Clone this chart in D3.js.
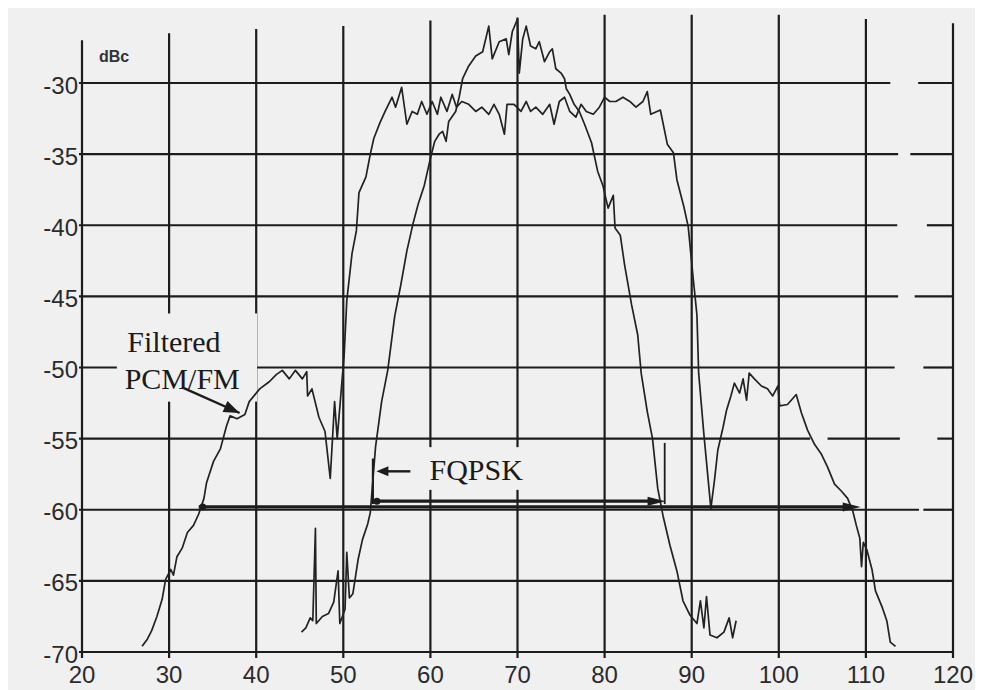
<!DOCTYPE html>
<html lang="en">
  <head>
    <meta charset="utf-8" />
    <title>FQPSK vs Filtered PCM/FM spectrum</title>
    <script src="https://d3js.org/d3.v7.min.js"></script>
    <style>
      html,
      body {
        margin: 0;
        padding: 0;
        background: #fff;
      }
      svg {
        display: block;
      }
      .tick-label {
        font-family: "Liberation Sans", Arial, sans-serif;
        font-size: 24px;
        fill: #2b2b2b;
      }
      .note {
        font-family: "Liberation Serif", "Times New Roman", serif;
        font-size: 30px;
        fill: #1a1a1a;
      }
    </style>
  </head>

  <body>
    <svg id="chart"></svg>

    <script>
      // frequency ticks and dBc ticks
      const xTicks = [20, 30, 40, 50, 60, 70, 80, 90, 100, 110, 120];
      const yTicks = [-70, -65, -60, -55, -50, -45, -40, -35, -30];

      // spectrum traces: [frequency, dBc]
      const pcmFmPoints = [
        [26.9, -69.6], [27.5, -69.1], [28.0, -68.5], [28.6, -67.5], [29.2, -66.3], [29.6, -64.9],
        [30.2, -64.2], [30.5, -64.6], [30.9, -63.3], [31.5, -62.7], [32.1, -61.6], [32.8, -61.1],
        [33.4, -60.3], [34.0, -59.2], [34.3, -58.1], [35.1, -56.6], [35.9, -55.7], [36.6, -54.1],
        [37.0, -53.4], [37.8, -53.6], [38.7, -53.3], [39.2, -52.4], [40.4, -51.5], [41.5, -51.0],
        [42.3, -50.5], [43.0, -50.2], [43.8, -50.8], [44.5, -50.2], [45.3, -50.8], [45.8, -50.3],
        [45.9, -52.0], [46.4, -51.5], [47.2, -53.5], [47.9, -54.5], [48.5, -57.8], [49.0, -52.4],
        [49.3, -55.0], [50.1, -49.1], [50.4, -45.3], [51.0, -42.0], [51.5, -40.4], [51.8, -37.7],
        [52.6, -36.6], [53.1, -35.0], [53.5, -33.9], [54.2, -32.8], [54.8, -32.0], [55.6, -31.0],
        [56.0, -31.7], [56.7, -30.3], [57.3, -32.9], [57.9, -32.0], [58.5, -32.2], [59.0, -31.3],
        [59.6, -32.2], [60.2, -31.3], [60.8, -32.2], [61.2, -31.0], [61.9, -32.0], [62.5, -30.8],
        [63.0, -31.7], [63.6, -31.3], [64.4, -31.5], [65.2, -32.0], [65.9, -31.7], [66.7, -32.2],
        [67.3, -31.5], [67.9, -32.2], [68.5, -33.6], [68.8, -31.5], [69.6, -31.5], [70.4, -32.0],
        [71.0, -31.3], [71.5, -32.0], [72.1, -31.7], [72.9, -32.2], [73.7, -31.5], [74.2, -32.9],
        [74.8, -31.3], [75.4, -31.0], [76.0, -32.0], [76.7, -32.4], [77.3, -31.5], [77.9, -32.0],
        [78.7, -32.2], [79.4, -31.7], [80.0, -31.0], [80.6, -31.3], [81.3, -31.3], [82.1, -31.0],
        [82.9, -31.3], [83.6, -31.7], [84.4, -31.3], [84.9, -30.6], [85.3, -32.2], [86.4, -31.9],
        [87.2, -34.3], [87.9, -34.9], [88.3, -36.8], [89.1, -38.7], [89.6, -40.1], [90.2, -43.9],
        [90.6, -46.3], [90.8, -50.4], [91.4, -54.7], [92.2, -59.9], [92.6, -58.0], [93.0, -55.8],
        [93.6, -54.2], [94.0, -53.0], [94.5, -52.0], [94.9, -51.1], [95.5, -51.8], [95.9, -50.8],
        [96.3, -52.3], [96.6, -50.4], [97.2, -50.8], [98.0, -51.3], [98.7, -51.5], [99.3, -52.0],
        [99.9, -51.3], [100.1, -52.7], [101.0, -52.6], [102.0, -51.9], [102.6, -53.2], [103.3, -54.4],
        [104.1, -55.4], [104.9, -56.1], [105.6, -57.0], [106.4, -58.2], [107.2, -58.7], [107.9, -59.2],
        [108.5, -60.1], [108.9, -61.1], [109.3, -62.0], [109.5, -64.0], [109.7, -62.3], [110.1, -62.8],
        [110.7, -64.2], [111.1, -65.7], [111.9, -66.9], [112.4, -67.8], [112.8, -69.3], [113.4, -69.6],
      ];

      const fqpskPoints = [
        [45.2, -68.6], [45.7, -68.3], [46.2, -67.6], [46.5, -67.8], [46.8, -61.3], [46.9, -68.0],
        [47.6, -67.5], [48.3, -67.3], [48.9, -66.5], [49.4, -64.3], [49.6, -68.0], [50.2, -67.0],
        [50.4, -63.0], [50.7, -66.2], [51.1, -65.9], [51.7, -63.5], [52.2, -62.1], [52.8, -61.0],
        [53.1, -60.2], [53.7, -55.6], [54.4, -52.4], [55.1, -50.2], [55.9, -46.4], [56.6, -44.2],
        [57.3, -41.8], [58.0, -39.9], [58.6, -38.5], [59.3, -37.2], [60.0, -35.3], [60.5, -34.1],
        [61.0, -33.6], [61.4, -33.4], [61.8, -34.1], [62.1, -32.7], [62.9, -32.0], [63.3, -31.0],
        [63.7, -29.7], [64.4, -28.8], [65.2, -28.1], [66.0, -27.8], [66.7, -26.0], [67.1, -28.3],
        [67.9, -27.1], [68.7, -26.9], [69.0, -28.0], [69.4, -26.4], [70.0, -25.5], [70.2, -29.3],
        [70.6, -26.9], [71.0, -26.0], [71.5, -27.4], [72.1, -27.6], [72.5, -27.1], [73.1, -28.5],
        [73.7, -27.8], [74.0, -27.6], [74.4, -29.0], [75.0, -29.3], [75.4, -29.7], [75.6, -30.4],
        [76.0, -30.8], [76.5, -31.5], [77.1, -32.0], [77.7, -32.9], [78.5, -34.2], [79.2, -36.2],
        [79.8, -37.2], [80.4, -38.8], [81.0, -37.9], [81.2, -40.2], [81.8, -40.7], [82.3, -42.8],
        [83.1, -45.6], [83.8, -47.7], [84.2, -50.4], [84.9, -53.1], [85.5, -55.0], [86.1, -58.5],
        [86.7, -60.4], [87.5, -62.5], [88.3, -64.3], [89.0, -66.4], [89.8, -67.4], [90.6, -68.0],
        [91.0, -66.4], [91.4, -68.3], [91.7, -66.1], [92.1, -68.8], [92.9, -69.0], [93.7, -68.6],
        [94.3, -67.6], [94.7, -69.0], [95.1, -67.8],
      ];

      // bandwidth arrows (frequency span at a dBc level)
      const fqpskSpan = [53.4, 87.0, -59.4];
      const pcmFmSpan = [33.4, 109.4, -59.8];

      // ---- layout ----
      const W = 982;
      const H = 690;
      const bg = "#f0f0f0";
      const ink = "#1c1c1c";

      const x = d3.scaleLinear().domain([20, 120]).range([82, 953]);
      const y = d3.scaleLinear().domain([-70, -30]).range([652, 83]);

      // top ends of the vertical grid lines (they don't all reach the same height in the scan)
      const vTop = [-27, -26.5, -26.2, -26, -25.6, -25.4, -25.2, -25.2, -25.2, -25.5, -25.8];
      // little breaks in the horizontal rules on the right side of the scan
      const hGaps = {
        "-30": [[112.8, 116.0]],
        "-35": [[113.7, 115.1]],
        "-40": [[113.6, 117.0]],
        "-45": [[113.7, 115.6]],
        "-50": [[113.3, 116.6]],
        "-55": [[103.6, 105.6], [113.9, 118.2]],
        "-60": [[116.1, 116.6]],
      };

      const svg = d3.select("#chart").attr("width", W).attr("height", H);

      svg.append("rect").attr("x", 8).attr("y", 8).attr("width", W - 15).attr("height", H - 8).attr("fill", bg);

      const grid = svg.append("g").attr("stroke", ink).attr("stroke-width", 2.2).attr("fill", "none");

      // horizontal rules
      yTicks.forEach((v) => {
        const gaps = hGaps[String(v)] || [];
        let start = 20;
        const segs = [];
        gaps.forEach(([a, b]) => {
          segs.push([start, a]);
          start = b;
        });
        segs.push([start, 120]);
        segs.forEach(([a, b]) => {
          grid
            .append("line")
            .attr("x1", a === 20 ? x(a) - 3 : x(a))
            .attr("x2", x(b))
            .attr("y1", y(v))
            .attr("y2", y(v));
        });
      });

      // vertical rules
      xTicks.forEach((v, i) => {
        grid
          .append("line")
          .attr("x1", x(v))
          .attr("x2", x(v))
          .attr("y1", y(vTop[i]))
          .attr("y2", y(-70) + 6);
      });

      // label boxes knock out the grid behind the annotations
      svg
        .append("rect")
        .attr("x", x(24.0))
        .attr("y", y(-46.2))
        .attr("width", x(40.1) - x(24.0))
        .attr("height", y(-52.4) - y(-46.2))
        .attr("fill", bg);
      svg
        .append("rect")
        .attr("x", x(59.3))
        .attr("y", y(-55.6))
        .attr("width", x(72.6) - x(59.3))
        .attr("height", y(-58.6) - y(-55.6))
        .attr("fill", bg);

      // traces
      const line = d3
        .line()
        .x((d) => x(d[0]))
        .y((d) => y(d[1]));

      const traces = svg.append("g").attr("fill", "none").attr("stroke", "#222").attr("stroke-width", 1.7).attr("stroke-linejoin", "round");
      traces.append("path").attr("d", line(pcmFmPoints));
      traces.append("path").attr("d", line(fqpskPoints));

      // filled triangle arrow head, angle a in screen radians
      function arrowHead(g, tipX, tipY, a, len, half) {
        const bx = tipX - Math.cos(a) * len;
        const by = tipY - Math.sin(a) * len;
        const px = -Math.sin(a) * half;
        const py = Math.cos(a) * half;
        g.append("path")
          .attr("d", `M${tipX},${tipY}L${bx + px},${by + py}L${bx - px},${by - py}Z`)
          .attr("fill", ink)
          .attr("stroke", "none");
      }

      const notes = svg.append("g").attr("stroke", ink).attr("fill", "none");

      // PCM/FM label pointer
      const p0 = [x(31.5), y(-51.4)];
      const p1 = [x(38.1), y(-53.2)];
      notes.append("line").attr("x1", p0[0]).attr("y1", p0[1]).attr("x2", p1[0]).attr("y2", p1[1]).attr("stroke-width", 2.4);
      arrowHead(notes, p1[0], p1[1], Math.atan2(p1[1] - p0[1], p1[0] - p0[0]), 16, 6);

      // FQPSK label pointer
      notes
        .append("line")
        .attr("x1", x(57.7))
        .attr("x2", x(54.2))
        .attr("y1", y(-57.3))
        .attr("y2", y(-57.3))
        .attr("stroke-width", 2.4);
      arrowHead(notes, x(53.8), y(-57.3), Math.PI, 12, 5);

      // band edge markers
      notes.append("line").attr("x1", x(53.4)).attr("x2", x(53.4)).attr("y1", y(-56.4)).attr("y2", y(-59.6)).attr("stroke-width", 2.2);
      notes.append("line").attr("x1", x(86.9)).attr("x2", x(86.9)).attr("y1", y(-55.3)).attr("y2", y(-59.6)).attr("stroke-width", 1.8);

      // bandwidth arrows
      [fqpskSpan, pcmFmSpan].forEach(([a, b, lvl]) => {
        notes
          .append("line")
          .attr("x1", x(a))
          .attr("x2", x(b) - 10)
          .attr("y1", y(lvl))
          .attr("y2", y(lvl))
          .attr("stroke-width", 3.2);
        notes
          .append("circle")
          .attr("cx", x(a) + 4)
          .attr("cy", y(lvl))
          .attr("r", 3.5)
          .attr("fill", ink)
          .attr("stroke", "none");
        arrowHead(notes, x(b), y(lvl), 0, 18, 4.5);
      });

      // axis labels
      svg
        .append("g")
        .selectAll("text")
        .data(yTicks)
        .join("text")
        .attr("class", "tick-label")
        .attr("x", 78)
        .attr("y", (d) => y(d) + 2)
        .attr("text-anchor", "end")
        .attr("dominant-baseline", "central")
        .text((d) => d);

      svg
        .append("g")
        .selectAll("text")
        .data(xTicks)
        .join("text")
        .attr("class", "tick-label")
        .attr("x", (d) => x(d))
        .attr("y", 683)
        .attr("text-anchor", "middle")
        .text((d) => d);

      svg
        .append("text")
        .attr("x", 99)
        .attr("y", 62)
        .attr("font-family", "Liberation Sans, Arial, sans-serif")
        .attr("font-size", 16)
        .attr("font-weight", "bold")
        .attr("fill", "#333")
        .text("dBc");

      svg.append("text").attr("class", "note").attr("x", x(25.2)).attr("y", y(-48.9)).text("Filtered");
      svg.append("text").attr("class", "note").attr("x", x(24.9)).attr("y", y(-51.5)).text("PCM/FM");
      svg.append("text").attr("class", "note").attr("x", x(59.9)).attr("y", y(-57.9)).text("FQPSK");
    </script>
  </body>
</html>
